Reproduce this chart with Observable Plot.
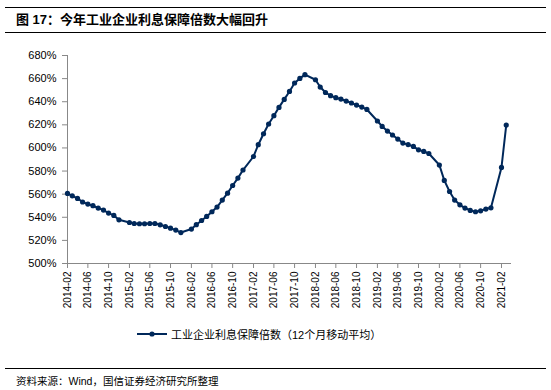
<!DOCTYPE html>
<html>
<head>
<meta charset="utf-8">
<script src="https://cdn.jsdelivr.net/npm/d3@7"></script>
<script src="https://cdn.jsdelivr.net/npm/@observablehq/plot@0.6"></script>
<style>
  html, body { margin: 0; padding: 0; background: #fff; }
  #page { position: relative; width: 551px; height: 390px; overflow: hidden; background: #fff;
          font-family: "Liberation Sans", Arial, "Noto Sans CJK SC", sans-serif; }
  .rule { position: absolute; left: 5px; width: 541px; border-top: 1.5px solid #000; height: 0; }
  #title { position: absolute; left: 16px; top: 12px; font-size: 13px; font-weight: bold; line-height: 16px; color: #000;
           font-family: "Liberation Sans", Arial, "Noto Sans CJK SC", sans-serif; white-space: nowrap; }
  #chart { position: absolute; left: 0; top: 40px; }
  #legend { position: absolute; left: 137px; top: 326px; height: 16px; display: flex; align-items: center;
            font-size: 11px; color: #000; white-space: nowrap; }
  #legend svg { margin-right: 4px; }
  #source { position: absolute; left: 16px; top: 373px; font-size: 10.5px; color: #000; white-space: nowrap; }
</style>
</head>
<body>
<div id="page">
  <div class="rule" style="top:7px"></div>
  <div id="title">图 17：今年工业企业利息保障倍数大幅回升</div>
  <div class="rule" style="top:32px"></div>
  <div id="chart"></div>
  <div id="legend"><svg width="30" height="8"><line x1="0" y1="4" x2="30" y2="4" stroke="#00285a" stroke-width="2"/><circle cx="15" cy="4" r="2.6" fill="#00285a"/></svg><span>工业企业利息保障倍数（12个月移动平均）</span></div>
  <div class="rule" style="top:368px"></div>
  <div id="source">资料来源：Wind，国信证券经济研究所整理</div>
</div>
<script>
// Months (January values absent: Jan–Feb reported together)
const months = [
  "2014-02","2014-03","2014-04","2014-05","2014-06","2014-07","2014-08","2014-09","2014-10","2014-11","2014-12",
  "2015-02","2015-03","2015-04","2015-05","2015-06","2015-07","2015-08","2015-09","2015-10","2015-11","2015-12",
  "2016-02","2016-03","2016-04","2016-05","2016-06","2016-07","2016-08","2016-09","2016-10","2016-11","2016-12",
  "2017-02","2017-03","2017-04","2017-05","2017-06","2017-07","2017-08","2017-09","2017-10","2017-11","2017-12",
  "2018-02","2018-03","2018-04","2018-05","2018-06","2018-07","2018-08","2018-09","2018-10","2018-11","2018-12",
  "2019-02","2019-03","2019-04","2019-05","2019-06","2019-07","2019-08","2019-09","2019-10","2019-11","2019-12",
  "2020-02","2020-03","2020-04","2020-05","2020-06","2020-07","2020-08","2020-09","2020-10","2020-11","2020-12",
  "2021-02","2021-03"
];
// 工业企业利息保障倍数（12个月移动平均）, %
const values = [
  560.6,558.6,556.3,553.2,551.4,550.0,548.0,546.2,543.6,541.6,537.8,
  535.5,534.6,534.4,534.4,534.6,534.6,533.5,532.0,530.6,528.9,526.8,
  529.8,533.6,537.2,540.7,544.8,548.8,554.9,560.9,567.5,573.9,580.9,
  592.6,602.8,612.3,620.7,627.9,635.1,642.0,648.9,656.2,660.2,663.4,
  659.0,652.7,648.0,645.2,643.5,642.3,640.6,638.9,637.1,635.4,633.3,
  623.3,618.6,614.6,611.2,607.7,604.2,602.9,601.3,598.4,597.0,595.2,
  585.2,571.9,562.3,554.9,550.8,548.0,545.9,544.8,545.6,547.1,548.2,
  583.1,619.8
];
const xTickLabels = [
  "2014-02","2014-06","2014-10","2015-02","2015-06","2015-10","2016-02","2016-06","2016-10",
  "2017-02","2017-06","2017-10","2018-02","2018-06","2018-10","2019-02","2019-06","2019-10",
  "2020-02","2020-06","2020-10","2021-02"
];
const yTicks = [500,520,540,560,580,600,620,640,660,680];
const xDomain = ["2014-02","2021-04"];

const toDate = s => new Date(s + "-01T00:00:00Z");
const data = months.map((m, i) => ({date: toDate(m), value: values[i]}));
const xTicks = xTickLabels.map(toDate);
const fmt = d3.utcFormat("%Y-%m");
const color = "#00285a";

const chart = Plot.plot({
  width: 551,
  height: 285,
  marginLeft: 67,
  marginRight: 40,
  marginTop: 15,
  marginBottom: 62,
  style: {fontFamily: "'Liberation Sans', Arial, sans-serif", fontSize: "11px", color: "#000", background: "#fff", overflow: "visible"},
  x: {type: "utc", domain: xDomain.map(toDate)},
  y: {domain: [500, 680]},
  marks: [
    Plot.axisY({ticks: yTicks, tickFormat: d => d + "%", tickSize: 5, tickPadding: 6, stroke: "#888", fill: "#000", label: null, fontSize: 11}),
    Plot.axisX({ticks: xTicks, tickFormat: fmt, tickRotate: -90, tickSize: 5, tickPadding: 3, stroke: "#888", fill: "#000", label: null, fontSize: 10}),
    Plot.ruleX([toDate(xDomain[0])], {stroke: "#888"}),
    Plot.ruleY([500], {stroke: "#888"}),
    Plot.line(data, {x: "date", y: "value", stroke: color, strokeWidth: 2}),
    Plot.dot(data, {x: "date", y: "value", fill: color, r: 2.6})
  ]
});
document.getElementById("chart").appendChild(chart);
</script>
</body>
</html>
